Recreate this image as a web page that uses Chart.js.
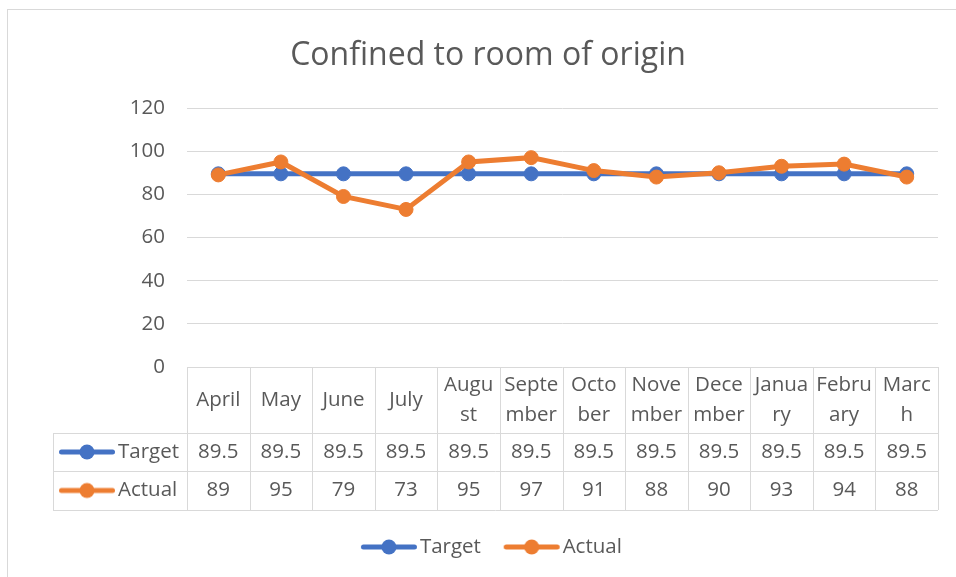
<!DOCTYPE html>
<html>
<head>
<meta charset="utf-8">
<script src="https://cdn.jsdelivr.net/npm/chart.js@4.4.0/dist/chart.umd.min.js"></script>
<style>
  html, body { margin: 0; padding: 0; background: #ffffff; }
  #wrap { position: relative; width: 956px; height: 577px; }
</style>
</head>
<body>
<div id="wrap"><canvas id="roomChart" width="956" height="577"></canvas></div>
<script>
// 数据
const categories = ['April', 'May', 'June', 'July', 'August', 'September', 'October', 'November', 'December', 'January', 'February', 'March'];
const headerLabels = [['April'], ['May'], ['June'], ['July'], ['Augu', 'st'], ['Septe', 'mber'], ['Octo', 'ber'], ['Nove', 'mber'], ['Dece', 'mber'], ['Janua', 'ry'], ['Febru', 'ary'], ['Marc', 'h']];
const targetValues = [89.5, 89.5, 89.5, 89.5, 89.5, 89.5, 89.5, 89.5, 89.5, 89.5, 89.5, 89.5];
const actualValues = [89, 95, 79, 73, 95, 97, 91, 88, 90, 93, 94, 88];
const yTicks = [0, 20, 40, 60, 80, 100, 120];
const chartTitle = 'Confined to room of origin';

const TEXT = '#595959';
const GRID = '#D9D9D9';
const BLUE = '#4472C4';
const ORANGE = '#ED7D31';
const FONT = '"Open Sans"';
const FS = 20.5;

// 图例 / 表格里的 "线+圆点" 标记
const makeMarker = (color) => {
  const c = document.createElement('canvas');
  c.width = 58; c.height = 18;
  const g = c.getContext('2d');
  g.strokeStyle = color;
  g.lineWidth = 5;
  g.lineCap = 'round';
  g.beginPath(); g.moveTo(3.5, 9); g.lineTo(54.5, 9); g.stroke();
  g.fillStyle = color;
  g.beginPath(); g.arc(29, 9, 7.5, 0, Math.PI * 2); g.fill();
  return c;
};
const markers = { Target: makeMarker(BLUE), Actual: makeMarker(ORANGE) };

// 边框、标题、数据表
const dataTablePlugin = {
  id: 'dataTable',
  beforeDraw(chart) {
    const ctx = chart.ctx;
    ctx.save();
    ctx.strokeStyle = GRID;
    ctx.lineWidth = 1;
    ctx.strokeRect(7.5, 9.5, 1200, 1200);
    ctx.fillStyle = TEXT;
    ctx.font = `32px ${FONT}`;
    ctx.textAlign = 'center';
    ctx.textBaseline = 'alphabetic';
    ctx.fillText(chartTitle, 488, 65);
    ctx.restore();
  },
  afterDraw(chart) {
    const ctx = chart.ctx;
    const x = chart.scales.x;
    const area = chart.chartArea;
    const colW = x.getPixelForValue(1) - x.getPixelForValue(0);
    const top = area.bottom;
    const r1 = top + 66, r2 = r1 + 38, r3 = r2 + 39;
    const leftEdge = 53;

    ctx.save();
    ctx.strokeStyle = GRID;
    ctx.lineWidth = 1;
    ctx.beginPath();
    [r1, r2, r3].forEach(y => {
      ctx.moveTo(leftEdge, Math.round(y) + 0.5);
      ctx.lineTo(area.right, Math.round(y) + 0.5);
    });
    for (let i = 0; i <= categories.length; i++) {
      const px = Math.round(area.left + i * colW) + 0.5;
      ctx.moveTo(px, top);
      ctx.lineTo(px, r3);
    }
    ctx.moveTo(leftEdge + 0.5, r1);
    ctx.lineTo(leftEdge + 0.5, r3);
    ctx.stroke();

    ctx.fillStyle = TEXT;
    ctx.font = `${FS}px ${FONT}`;
    ctx.textAlign = 'center';
    ctx.textBaseline = 'middle';
    const hMid = (top + r1) / 2;
    categories.forEach((cat, i) => {
      const cx = x.getPixelForValue(i);
      const lines = headerLabels[i];
      lines.forEach((ln, k) => {
        ctx.fillText(ln, cx, hMid + (k - (lines.length - 1) / 2) * 30);
      });
      ctx.fillText(String(targetValues[i]), cx, (r1 + r2) / 2);
      ctx.fillText(String(actualValues[i]), cx, (r2 + r3) / 2);
    });

    ctx.textAlign = 'left';
    [['Target', (r1 + r2) / 2], ['Actual', (r2 + r3) / 2]].forEach(([name, cy]) => {
      const m = markers[name];
      ctx.drawImage(m, 58, cy - m.height / 2);
      ctx.fillText(name, 118, cy);
    });
    ctx.restore();
  }
};

const chart = new Chart(document.getElementById('roomChart').getContext('2d'), {
  type: 'line',
  data: {
    labels: categories,
    datasets: [
      {
        label: 'Target',
        data: targetValues,
        borderColor: BLUE,
        backgroundColor: BLUE,
        borderWidth: 5,
        pointRadius: 7,
        pointBorderWidth: 1,
        pointBackgroundColor: BLUE,
        pointBorderColor: BLUE,
        tension: 0,
        order: 2
      },
      {
        label: 'Actual',
        data: actualValues,
        borderColor: ORANGE,
        backgroundColor: ORANGE,
        borderWidth: 5,
        pointRadius: 7,
        pointBorderWidth: 1,
        pointBackgroundColor: ORANGE,
        pointBorderColor: ORANGE,
        tension: 0,
        order: 1
      }
    ]
  },
  options: {
    responsive: false,
    animation: false,
    layout: { padding: { left: 52, right: 18, top: 108, bottom: 9.75 } },
    plugins: {
      title: { display: false },
      legend: {
        position: 'bottom',
        labels: {
          color: TEXT,
          font: { family: 'Open Sans', size: FS },
          usePointStyle: true,
          pointStyleWidth: 41.5,
          padding: 30,
          generateLabels: () => ['Target', 'Actual'].map((name, i) => ({
            text: name,
            fontColor: TEXT,
            pointStyle: markers[name],
            fillStyle: 'transparent',
            strokeStyle: 'transparent',
            lineWidth: 0,
            hidden: false,
            datasetIndex: i
          }))
        }
      },
      tooltip: { enabled: false }
    },
    scales: {
      x: {
        offset: true,
        grid: { display: false },
        border: { display: false },
        ticks: { display: false },
        afterFit: (scale) => { scale.height = 139.75; }
      },
      y: {
        min: 0,
        max: 120,
        afterBuildTicks: (scale) => { scale.ticks = yTicks.map(v => ({ value: v })); },
        grid: { color: GRID, lineWidth: 1, drawTicks: false },
        border: { display: false },
        ticks: { color: TEXT, font: { family: 'Open Sans', size: FS }, padding: 22 },
        afterFit: (scale) => { scale.width = 135; }
      }
    }
  },
  plugins: [dataTablePlugin]
});
</script>
</body>
</html>
